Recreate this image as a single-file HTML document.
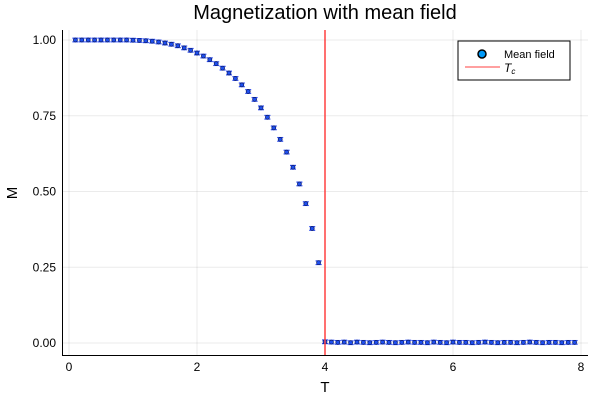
<!DOCTYPE html>
<html><head><meta charset="utf-8"><style>
body{margin:0;background:#fff;}
svg text{font-family:"Liberation Sans",sans-serif;}
</style></head><body>
<svg id="chart" width="600" height="400" xmlns="http://www.w3.org/2000/svg">
<rect width="600" height="400" fill="#fff"/>
<text x="325" y="19" font-size="20" text-anchor="middle">Magnetization with mean field</text>
<g id="grid"></g>
<g id="ticks"></g>
<line x1="62" y1="355.5" x2="588" y2="355.5" stroke="#000"/>
<line x1="62.5" y1="30" x2="62.5" y2="355" stroke="#000"/>
<text x="325" y="392" font-size="15" text-anchor="middle">T</text>
<text x="17" y="193" font-size="15" text-anchor="middle" transform="rotate(-90 17 193)">M</text>
<g id="series"></g>
<line id="tc" stroke="#ff4040" stroke-width="1.5"/>
<g>
<rect x="458" y="41" width="112" height="39" fill="#fff" stroke="#000" stroke-width="1"/>
<circle cx="482" cy="54" r="4" fill="#009af9" stroke="#000" stroke-width="1.5"/>
<text x="504" y="58" font-size="11">Mean field</text>
<line x1="465" y1="67" x2="500" y2="67" stroke="#ff4040"/>
<text x="504" y="72" font-size="12" font-style="italic" font-family="Liberation Serif">T<tspan font-size="8" dy="2">c</tspan></text>
</g>
</svg>
<script>
const temps=[];
const xTicks=[0,2,4,6,8];
const yTicks=[0,0.25,0.5,0.75,1.0];
const yTickLabels=["0.00","0.25","0.50","0.75","1.00"];
const Tc=4;
const mLow=[1,1,1,1,1,1,1,1,1,0.9993,0.9986,0.9975,0.996,0.9935,0.990,0.986,0.981,0.974,0.966,0.957,0.947,0.935,0.922,0.907,0.891,0.873,0.852,0.830,0.804,0.776,0.745,0.710,0.672,0.630,0.580,0.525,0.460,0.378,0.265];
const mHigh=[0.004,0.003,0.002,0.003,0.001,0.003,0.002,0.001,0.002,0.003,0.002,0.001,0.002,0.003,0.002,0.002,0.001,0.003,0.002,0.001,0.003,0.002,0.002,0.001,0.002,0.003,0.002,0.001,0.002,0.002,0.001,0.002,0.003,0.002,0.001,0.002,0.002,0.001,0.002,0.002];
const errs=0.006;
for(let i=1;i<=79;i++)temps.push(i/10);
const mags=mLow.concat(mHigh);
const sx=v=>69+v*64, sy=v=>343-v*303;
const NS="http://www.w3.org/2000/svg";
function mk(t,a,p){const e=document.createElementNS(NS,t);for(const k in a)e.setAttribute(k,a[k]);p.appendChild(e);return e;}
const grid=document.getElementById('grid'),ticks=document.getElementById('ticks'),ser=document.getElementById('series');
xTicks.forEach(v=>{
 const g=mk('line',{x1:sx(v),x2:sx(v),y1:30,y2:355,stroke:'#000','stroke-opacity':0.08},grid);
 
 
 const t=mk('text',{x:sx(v),y:371,'font-size':12,'text-anchor':'middle'},ticks);t.textContent=v;
 
 
});
yTicks.forEach((v,i)=>{
 const g=mk('line',{x1:62,x2:588,y1:sy(v),y2:sy(v),stroke:'#000','stroke-opacity':0.08},grid);
 
 
 const t=mk('text',{x:56,y:sy(v)+4,'font-size':12,'text-anchor':'end'},ticks);t.textContent=yTickLabels[i];
 
 
});
temps.forEach((T,i)=>{
 const x=sx(T),y=sy(mags[i]),d=errs*303;
 const g=mk('g',{},ser);
 
 
 mk('line',{x1:x,x2:x,y1:y-d,y2:y+d,stroke:'#2a4af0','stroke-width':1.5},g);
 mk('line',{x1:x-3,x2:x+3,y1:y-d,y2:y-d,stroke:'#2a4af0','stroke-width':1.2},g);
 mk('line',{x1:x-3,x2:x+3,y1:y+d,y2:y+d,stroke:'#2a4af0','stroke-width':1.2},g);
 mk('circle',{cx:x,cy:y,r:2,fill:'#1f4ff0',stroke:'#0a1a60','stroke-width':0.7},g);
});
const tc=document.getElementById('tc');
tc.setAttribute('x1',sx(Tc));tc.setAttribute('x2',sx(Tc));tc.setAttribute('y1',30);tc.setAttribute('y2',355);
</script>
</body></html>
